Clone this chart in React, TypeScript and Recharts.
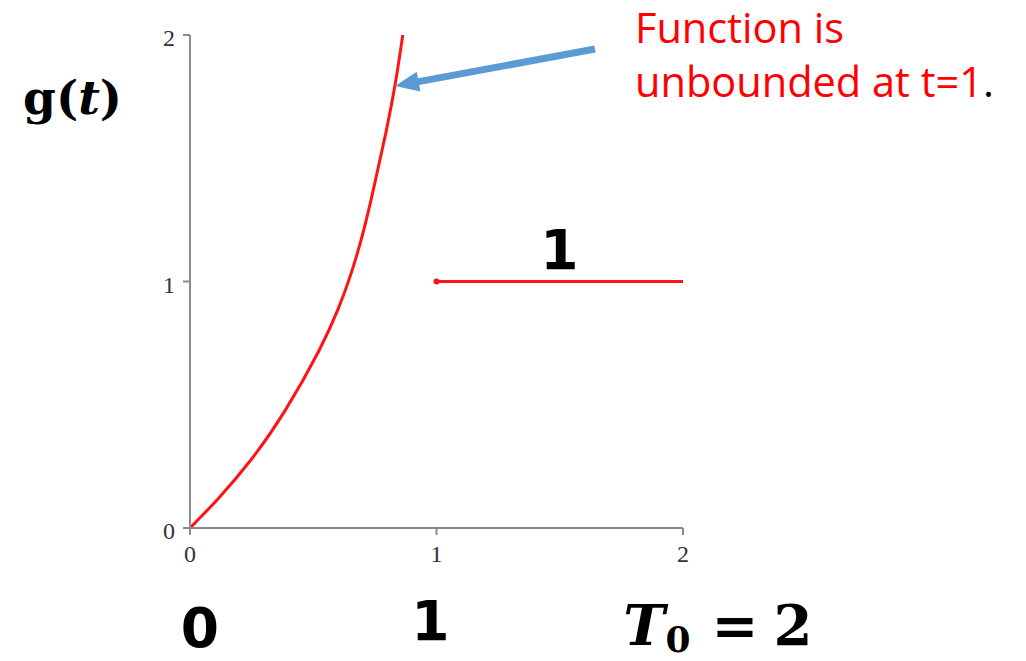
import { LineChart, Line, XAxis, YAxis } from "recharts";

// g(t), rising branch on [0, 1)
const curveT = [0, 0.115, 0.25, 0.385, 0.521, 0.602, 0.656, 0.71, 0.757, 0.798, 0.834, 0.865];
const curveG = [0, 0.12, 0.28, 0.475, 0.715, 0.891, 1.04, 1.229, 1.432, 1.62, 1.81, 2.013];

// flat part on [1, 2]
const flatT = [1, 2];
const flatG = [1, 1];

const xTicks = [0, 1, 2];
const yTicks = [0, 1, 2];

const curveData = curveT.map((t, i) => ({ t, g: curveG[i] }));
const flatData = flatT.map((t, i) => ({ t, g: flatG[i] }));

const RED = "#ff1414";
const AXIS = "#8a8a8a";
const BLUE = "#5b9bd5";
const TICK_FONT = { fontFamily: "Liberation Serif", fontSize: 24, fill: "#333333" };

function XTick(props: any) {
  const { x, y, payload } = props;
  return (
    <text x={x} y={y} dy="0.72em" textAnchor="middle" {...TICK_FONT}>
      {payload.value}
    </text>
  );
}

function YTick(props: any) {
  const { x, y, payload } = props;
  return (
    <text x={x} y={y + 3} dy="0.34em" textAnchor="end" {...TICK_FONT}>
      {payload.value}
    </text>
  );
}

function FlatDot(props: any) {
  const { cx, cy, index } = props;
  if (index !== 0) return <g key={`fd-${index}`} />;
  return <circle key={`fd-${index}`} cx={cx} cy={cy} r={3} fill={RED} />;
}

function Arrow() {
  // annotation arrow pointing at the curve near the top
  const x1 = 595, y1 = 49, x2 = 395, y2 = 86;
  const dx = x2 - x1, dy = y2 - y1;
  const len = Math.sqrt(dx * dx + dy * dy);
  const ux = dx / len, uy = dy / len;
  const px = -uy, py = ux;
  const headLen = 24, headW = 10, shaft = 3.5;
  const bx = x2 - ux * headLen, by = y2 - uy * headLen;
  const pts = [
    [x1 + px * shaft, y1 + py * shaft],
    [bx + px * shaft, by + py * shaft],
    [bx + px * headW, by + py * headW],
    [x2, y2],
    [bx - px * headW, by - py * headW],
    [bx - px * shaft, by - py * shaft],
    [x1 - px * shaft, y1 - py * shaft],
  ];
  return <polygon points={pts.map((p) => p.join(",")).join(" ")} fill={BLUE} />;
}

export default function App() {
  return (
    <div style={{ position: "absolute", left: 0, top: 0, width: 1026, height: 661, background: "#fff" }}>
      <LineChart width={1026} height={661} margin={{ top: 35, right: 343, left: 160, bottom: 103 }}>
        <XAxis
          type="number"
          dataKey="t"
          domain={[0, 2]}
          ticks={xTicks}
          allowDuplicatedCategory={false}
          height={30}
          tickSize={7}
          tickMargin={10}
          axisLine={{ stroke: AXIS, strokeWidth: 2 }}
          tickLine={{ stroke: AXIS, strokeWidth: 2 }}
          tick={<XTick />}
        />
        <YAxis
          type="number"
          domain={[0, 2]}
          allowDataOverflow
          ticks={yTicks}
          width={30}
          tickSize={7}
          tickMargin={8}
          axisLine={{ stroke: AXIS, strokeWidth: 2 }}
          tickLine={{ stroke: AXIS, strokeWidth: 2 }}
          tick={<YTick />}
        />
        <Line
          data={curveData}
          dataKey="g"
          type="natural"
          stroke={RED}
          strokeWidth={3}
          dot={false}
          isAnimationActive={false}
        />
        <Line
          data={flatData}
          dataKey="g"
          type="linear"
          stroke={RED}
          strokeWidth={3}
          dot={FlatDot}
          isAnimationActive={false}
        />
      </LineChart>

      <svg
        width={1026}
        height={661}
        style={{ position: "absolute", left: 0, top: 0, pointerEvents: "none" }}
      >
        <Arrow />
        <text x={23} y={114} fontFamily="DejaVu Serif" fontWeight="bold" fontSize={47} fill="#000">
          g<tspan>(</tspan>
          <tspan fontStyle="italic">t</tspan>
          <tspan>)</tspan>
        </text>

        <text fontFamily="Open Sans" fontSize={41.5} fill="#ff0000">
          <tspan x={635} y={43}>Function is</tspan>
          <tspan x={635} y={97}>
            unbounded at t=1<tspan fill="#000">.</tspan>
          </tspan>
        </text>

        <text x={559.5} y={269} textAnchor="middle" fontFamily="DejaVu Sans" fontWeight="bold" fontSize={55} fill="#000">
          1
        </text>

        <text x={200} y={647} textAnchor="middle" fontFamily="DejaVu Sans" fontWeight="bold" fontSize={55} fill="#000">
          0
        </text>
        <text x={430.5} y={640} textAnchor="middle" fontFamily="DejaVu Sans" fontWeight="bold" fontSize={55} fill="#000">
          1
        </text>

        <text x={644} y={645} textAnchor="middle" fontFamily="DejaVu Serif" fontWeight="bold" fontStyle="italic" fontSize={56} fill="#000">
          T
        </text>
        <text x={678} y={652} textAnchor="middle" fontFamily="DejaVu Serif" fontWeight="bold" fontSize={36} fill="#000">
          0
        </text>
        <text x={735} y={645} textAnchor="middle" fontFamily="DejaVu Serif" fontWeight="bold" fontSize={56} fill="#000">
          =
        </text>
        <text x={793} y={645} textAnchor="middle" fontFamily="DejaVu Serif" fontWeight="bold" fontSize={56} fill="#000">
          2
        </text>
      </svg>
    </div>
  );
}
